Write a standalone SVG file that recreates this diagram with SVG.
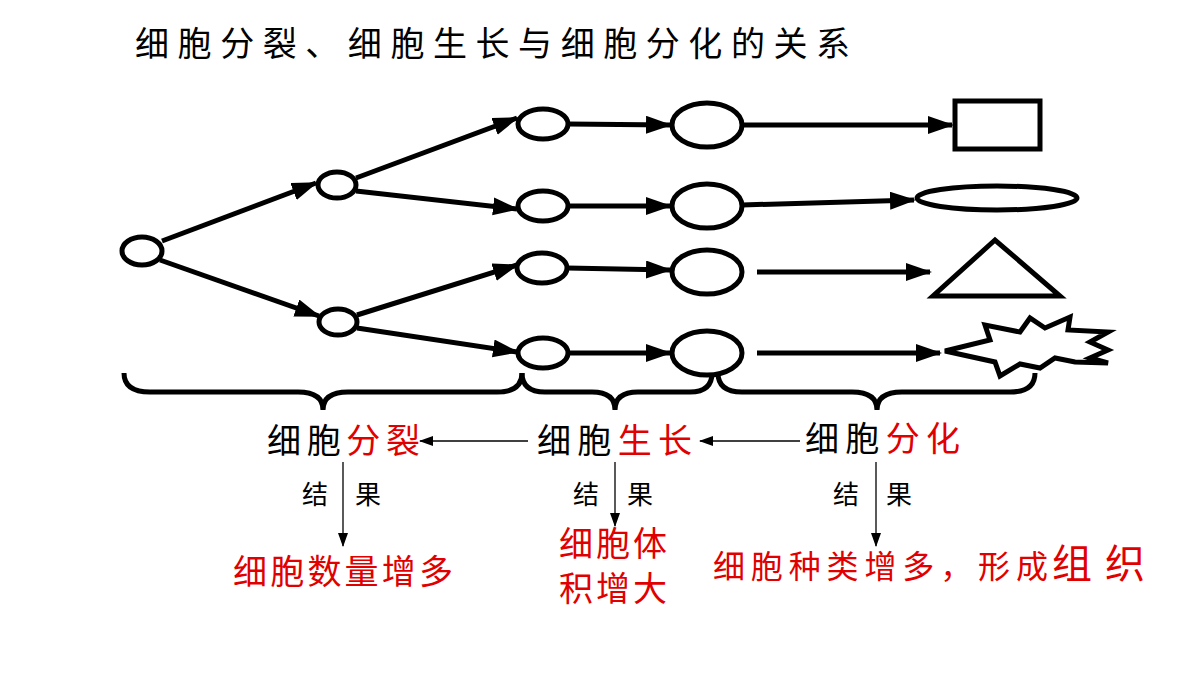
<svg xmlns="http://www.w3.org/2000/svg" width="1200" height="675" viewBox="0 0 1200 675">
<style>
.c{fill:#fff;stroke:#000;stroke-width:5}
.a{stroke:#000;stroke-width:5;fill:none;marker-end:url(#ah)}
.t{stroke:#000;stroke-width:1.3;fill:none;marker-end:url(#th)}
.b{stroke:#000;stroke-width:5;fill:none}
text{font-family:"Noto Sans CJK SC","Noto Sans CJK JP",sans-serif}
.k{fill:#000}.r{fill:#e00000}
</style>
<defs>
<marker id="ah" markerUnits="userSpaceOnUse" markerWidth="26" markerHeight="20" refX="24" refY="9" orient="auto"><path d="M0,0L26,9L0,18Z"/></marker>
<marker id="th" markerUnits="userSpaceOnUse" markerWidth="14" markerHeight="12" refX="13" refY="6" orient="auto"><path d="M0,1L14,6L0,11Z"/></marker>
</defs>
<rect width="1200" height="675" fill="#fff"/>
<text x="135" y="56" font-size="34" class="k" textLength="715" lengthAdjust="spacing">细胞分裂、细胞生长与细胞分化的关系</text>
<g id="connectors">
<path class="a" d="M162,241L316,183"/>
<path class="a" d="M160,260L319,316"/>
<path class="a" d="M356,178L517,118"/>
<path class="a" d="M356,191L517,209"/>
<path class="a" d="M357,315L517,265"/>
<path class="a" d="M357,328L517,352"/>
<path class="a" d="M568,124L670,125"/>
<path class="a" d="M568,206L670,206"/>
<path class="a" d="M567,268L670,270"/>
<path class="a" d="M568,353L670,353"/>
<path class="a" d="M742,125L952,125"/>
<path class="a" d="M742,205L914,200"/>
<path class="a" d="M757,272L930,272"/>
<path class="a" d="M757,353L940,353"/>
<path class="t" d="M528,441L420,441"/>
<path class="t" d="M800,441L700,441"/>
<path class="t" d="M343,462L343,546"/>
<path class="t" d="M615,462L615,526"/>
<path class="t" d="M876,462L876,546"/>
</g>
<g id="braces">
<path class="b" d="M124,373Q124,392 150,392L298,392Q323,392 323,410Q323,392 348,392L497,392Q522,392 522,373"/>
<path class="b" d="M522,373Q522,392 545,392L592,392Q615,392 615,410Q615,392 638,392L690,392Q712,392 712,373"/>
<path class="b" d="M718,373Q718,392 742,392L852,392Q877,392 877,410Q877,392 902,392L1010,392Q1035,392 1035,373"/>
</g>
<g id="cells">
<ellipse class="c" cx="142" cy="251" rx="20" ry="14"/>
<ellipse class="c" cx="337" cy="185" rx="19" ry="13"/>
<ellipse class="c" cx="338" cy="322" rx="19" ry="13"/>
<ellipse class="c" cx="543" cy="124" rx="25" ry="15"/>
<ellipse class="c" cx="543" cy="206" rx="25" ry="15"/>
<ellipse class="c" cx="542" cy="268" rx="25" ry="15"/>
<ellipse class="c" cx="543" cy="353" rx="25" ry="15"/>
<ellipse class="c" cx="707" cy="125" rx="35" ry="22"/>
<ellipse class="c" cx="707" cy="206" rx="35" ry="22"/>
<ellipse class="c" cx="707" cy="272" rx="35" ry="22"/>
<ellipse class="c" cx="707" cy="353" rx="35" ry="22"/>
<rect class="c" x="955" y="101" width="85" height="48"/>
<ellipse class="c" cx="997" cy="198" rx="80" ry="12"/>
<path class="c" d="M933,296L1060,296L995,240Z"/>
<path class="c" stroke-width="4" d="M945,351L990,340L985,325L1020,332L1030,318L1045,328L1070,317L1068,330L1108,332L1090,342L1108,350L1090,358L1108,363L1075,362L1055,358L1040,368L1020,364L1000,376L995,362Z"/>
</g>
<g id="labels">
<text x="267" y="453" font-size="34" class="k" textLength="153" lengthAdjust="spacing">细胞<tspan class="r">分裂</tspan></text>
<text x="537" y="453" font-size="34" class="k" textLength="155" lengthAdjust="spacing">细胞<tspan class="r">生长</tspan></text>
<text x="805" y="451" font-size="34" class="k" textLength="155" lengthAdjust="spacing">细胞<tspan class="r">分化</tspan></text>
<text x="302" y="504" font-size="26" class="k">结</text><text x="355" y="504" font-size="26" class="k">果</text>
<text x="573" y="504" font-size="26" class="k">结</text><text x="627" y="504" font-size="26" class="k">果</text>
<text x="833" y="504" font-size="26" class="k">结</text><text x="886" y="504" font-size="26" class="k">果</text>
<text x="233" y="584" font-size="34" class="r" textLength="220" lengthAdjust="spacing">细胞数量增多</text>
<text x="559" y="556" font-size="34" class="r" textLength="108" lengthAdjust="spacing">细胞体</text>
<text x="559" y="601" font-size="34" class="r" textLength="108" lengthAdjust="spacing">积增大</text>
<text x="713" y="578" font-size="32" class="r" textLength="335" lengthAdjust="spacing">细胞种类增多，形成</text>
<text x="1052" y="578" font-size="40" class="r" textLength="93" lengthAdjust="spacing">组织</text>
</g>
</svg>
